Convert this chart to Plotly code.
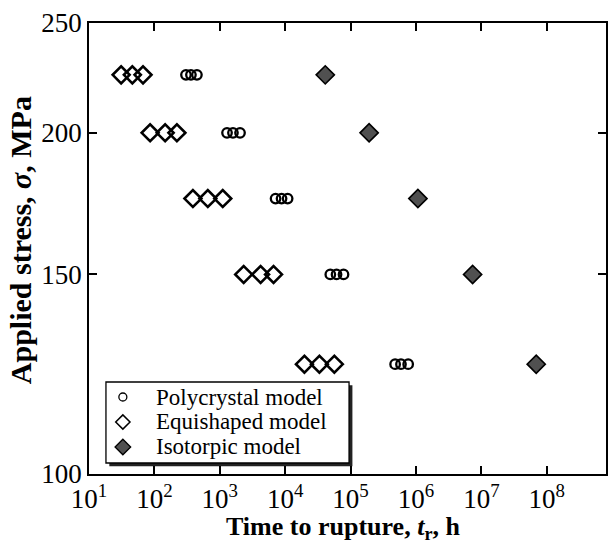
import plotly.graph_objects as go

# Data
poly_t = [304, 362, 447, 1290, 1590, 2040, 7130, 8800, 10900, 49000, 61000, 78000, 480000, 590000, 760000]
poly_s = [225, 225, 225, 200, 200, 200, 175, 175, 175, 150, 150, 150, 125, 125, 125]
equi_t = [31, 46, 67, 86, 146, 221, 388, 656, 1110, 2320, 4210, 6640, 19700, 33400, 56500]
equi_s = [225, 225, 225, 200, 200, 200, 175, 175, 175, 150, 150, 150, 125, 125, 125]
iso_t = [41000, 192000, 1.07e6, 7.35e6, 6.9e7]
iso_s = [225, 200, 175, 150, 125]

series_names = ["Polycrystal model", "Equishaped model", "Isotorpic model"]
x_tickvals = [1e1, 1e2, 1e3, 1e4, 1e5, 1e6, 1e7, 1e8]
x_ticktext = ["10<sup>%d</sup>" % i for i in range(1, 9)]
y_tickvals = [100, 150, 200, 250]
y_ticktext = ["100", "150", "200", "250"]

FONT = "Liberation Serif"

styles = [
    dict(symbol="circle-open", size=9.5, color="black", line=dict(width=2.3, color="black")),
    dict(symbol="diamond-open", size=13, color="black", line=dict(width=2.6, color="black")),
    dict(symbol="diamond", size=14, color="#505050", line=dict(width=1.6, color="black")),
]
legend_styles = [
    dict(symbol="circle-open", size=8, color="black", line=dict(width=1.3, color="black")),
    dict(symbol="diamond-open", size=11, color="black", line=dict(width=1.5, color="black")),
    dict(symbol="diamond", size=12, color="#505050", line=dict(width=1.3, color="black")),
]

fig = go.Figure()
for xs, ys, name, st in zip([poly_t, equi_t, iso_t], [poly_s, equi_s, iso_s], series_names, styles):
    fig.add_trace(go.Scatter(x=xs, y=ys, mode="markers", name=name, marker=st, showlegend=False))

# ---- hand-drawn legend (box with shadow, symbols, labels) ----
lx0, lx1, ly0, ly1 = 0.0328, 0.503, 0.0244, 0.204
sh = 0.0065
fig.add_shape(type="rect", xref="paper", yref="paper", x0=lx0 + sh, x1=lx1 + sh, y0=ly0 - sh * 1.15, y1=ly1 - sh * 1.15,
              fillcolor="#222222", line=dict(width=0), layer="below")
fig.add_shape(type="rect", xref="paper", yref="paper", x0=lx0, x1=lx1, y0=ly0, y1=ly1,
              fillcolor="white", line=dict(width=1.3, color="black"), layer="below")
row_y = [0.1707, 0.1153, 0.0599]
for name, st, ry in zip(series_names, legend_styles, row_y):
    fig.add_trace(go.Scatter(x=[0.0655], y=[ry], xaxis="x2", yaxis="y2", mode="markers",
                             marker=st, showlegend=False, hoverinfo="skip"))
    fig.add_annotation(text=name, xref="paper", yref="paper", x=0.125, y=ry, xanchor="left",
                       yanchor="middle", showarrow=False, font=dict(family=FONT, size=23, color="black"))

axis_common = dict(showline=True, linecolor="black", linewidth=1.6, mirror="ticks", ticks="inside",
                   ticklen=8, tickwidth=1.5, tickcolor="black", showgrid=False, zeroline=False)

fig.update_xaxes(type="log", range=[1, 8.906], tickvals=x_tickvals, ticktext=x_ticktext,
                 tickfont=dict(family=FONT, size=27, color="black"), **axis_common)
fig.update_yaxes(type="log", range=[2, 2.39794], tickvals=y_tickvals, ticktext=y_ticktext,
                 tickfont=dict(family=FONT, size=27, color="black"), **axis_common)

fig.update_layout(
    width=609, height=541,
    margin=dict(l=89, r=1, t=23, b=67),
    plot_bgcolor="white", paper_bgcolor="white",
    showlegend=False,
    xaxis2=dict(overlaying="x", range=[0, 1], visible=False, fixedrange=True),
    yaxis2=dict(overlaying="y", range=[0, 1], visible=False, fixedrange=True),
)
fig.add_annotation(text="<b>Time to rupture, <i>t</i><sub>r</sub>, h</b>", xref="paper", yref="paper",
                   x=0.492, y=-0.119, xanchor="center", yanchor="middle", showarrow=False, borderpad=0,
                   font=dict(family=FONT, size=26, color="black"))
fig.add_annotation(text="<b>Applied stress, <i>σ</i>, MPa</b>", xref="paper", yref="paper",
                   x=-0.131, y=0.519, xanchor="center", yanchor="middle", textangle=-90, showarrow=False,
                   font=dict(family=FONT, size=30, color="black"))
fig.write_html("out.html")
